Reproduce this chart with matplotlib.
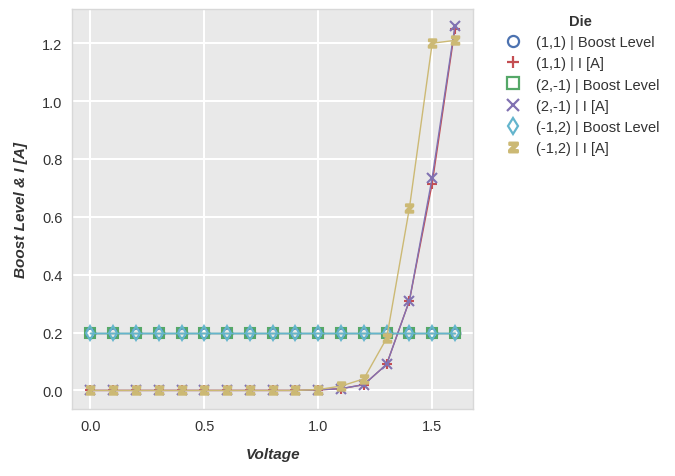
import matplotlib
matplotlib.use("Agg")
import matplotlib.pyplot as plt
from matplotlib.lines import Line2D

plt.style.use("seaborn-v0_8")
plt.rcParams["font.family"] = "Liberation Sans"

voltage = [round(0.1*i, 1) for i in range(17)]
boost_11 = [0.2]*17
boost_2m1 = [0.2]*17
boost_m12 = [0.2]*17
i_11 = [0,0,0,0,0,0,0,0,0,0,0.002,0.006,0.02,0.09,0.31,0.715,1.25]
i_2m1 = [0,0,0,0,0,0,0,0,0,0,0.002,0.006,0.02,0.09,0.31,0.735,1.26]
i_m12 = [0,0,0,0,0,0,0,0,0,0,0.003,0.015,0.04,0.18,0.63,1.20,1.21]
labels = ["(1,1) | Boost Level","(1,1) | I [A]","(2,-1) | Boost Level",
          "(2,-1) | I [A]","(-1,2) | Boost Level","(-1,2) | I [A]"]

pal = ["#4c72b0","#c44e52","#55a868","#8172b2","#64b5cd","#ccb974"]
txt = "#333333"
fig = plt.figure(figsize=(6.75,4.77), dpi=100)
ax = fig.add_axes([0.107,0.14,0.594,0.84])
ax.set_facecolor("#e9e9e9")
ax.grid(color="white", lw=1.5)
for sp in ax.spines.values():
    sp.set_visible(True); sp.set_color("#d8d8d8"); sp.set_linewidth(1)
series = [boost_11,i_11,boost_2m1,i_2m1,boost_m12,i_m12]
markers = ["o","+","s","x","d",r"$\mathbf{z}$"]
handles = []
for s,m,c,l in zip(series,markers,pal,labels):
    hollow = m in ("o","s","d")
    ms = 6 if m.startswith("$") else 7
    ax.plot(voltage,s,color=c,lw=1,marker=m,ms=ms,mew=1.5,
            mfc="none" if hollow else c)
    handles.append(Line2D([],[],ls="none",color=c,marker=m,ms=ms+1,mew=1.6,
                          mfc="none" if hollow else c,label=l))
ax.set_xlim(-0.08,1.68)
ax.set_ylim(-0.065,1.32)
ax.set_xticks([0,0.5,1.0,1.5])
ax.tick_params(colors=txt, labelsize=10.5)
ax.set_xlabel("Voltage",fontsize=11,fontweight="bold",style="italic",labelpad=10,color=txt)
ax.set_ylabel("Boost Level & I [A]",fontsize=11,fontweight="bold",style="italic",labelpad=10,color=txt)
leg = ax.legend(handles=handles,title="Die",loc="upper left",bbox_to_anchor=(1.04,1.02),frameon=False,
                fontsize=10.5,title_fontproperties={"weight":"bold","size":10.5},labelspacing=0.5,
                handlelength=1.5)
for t in leg.get_texts(): t.set_color(txt)
leg.get_title().set_color(txt)
fig.savefig("out.png",dpi=100)
